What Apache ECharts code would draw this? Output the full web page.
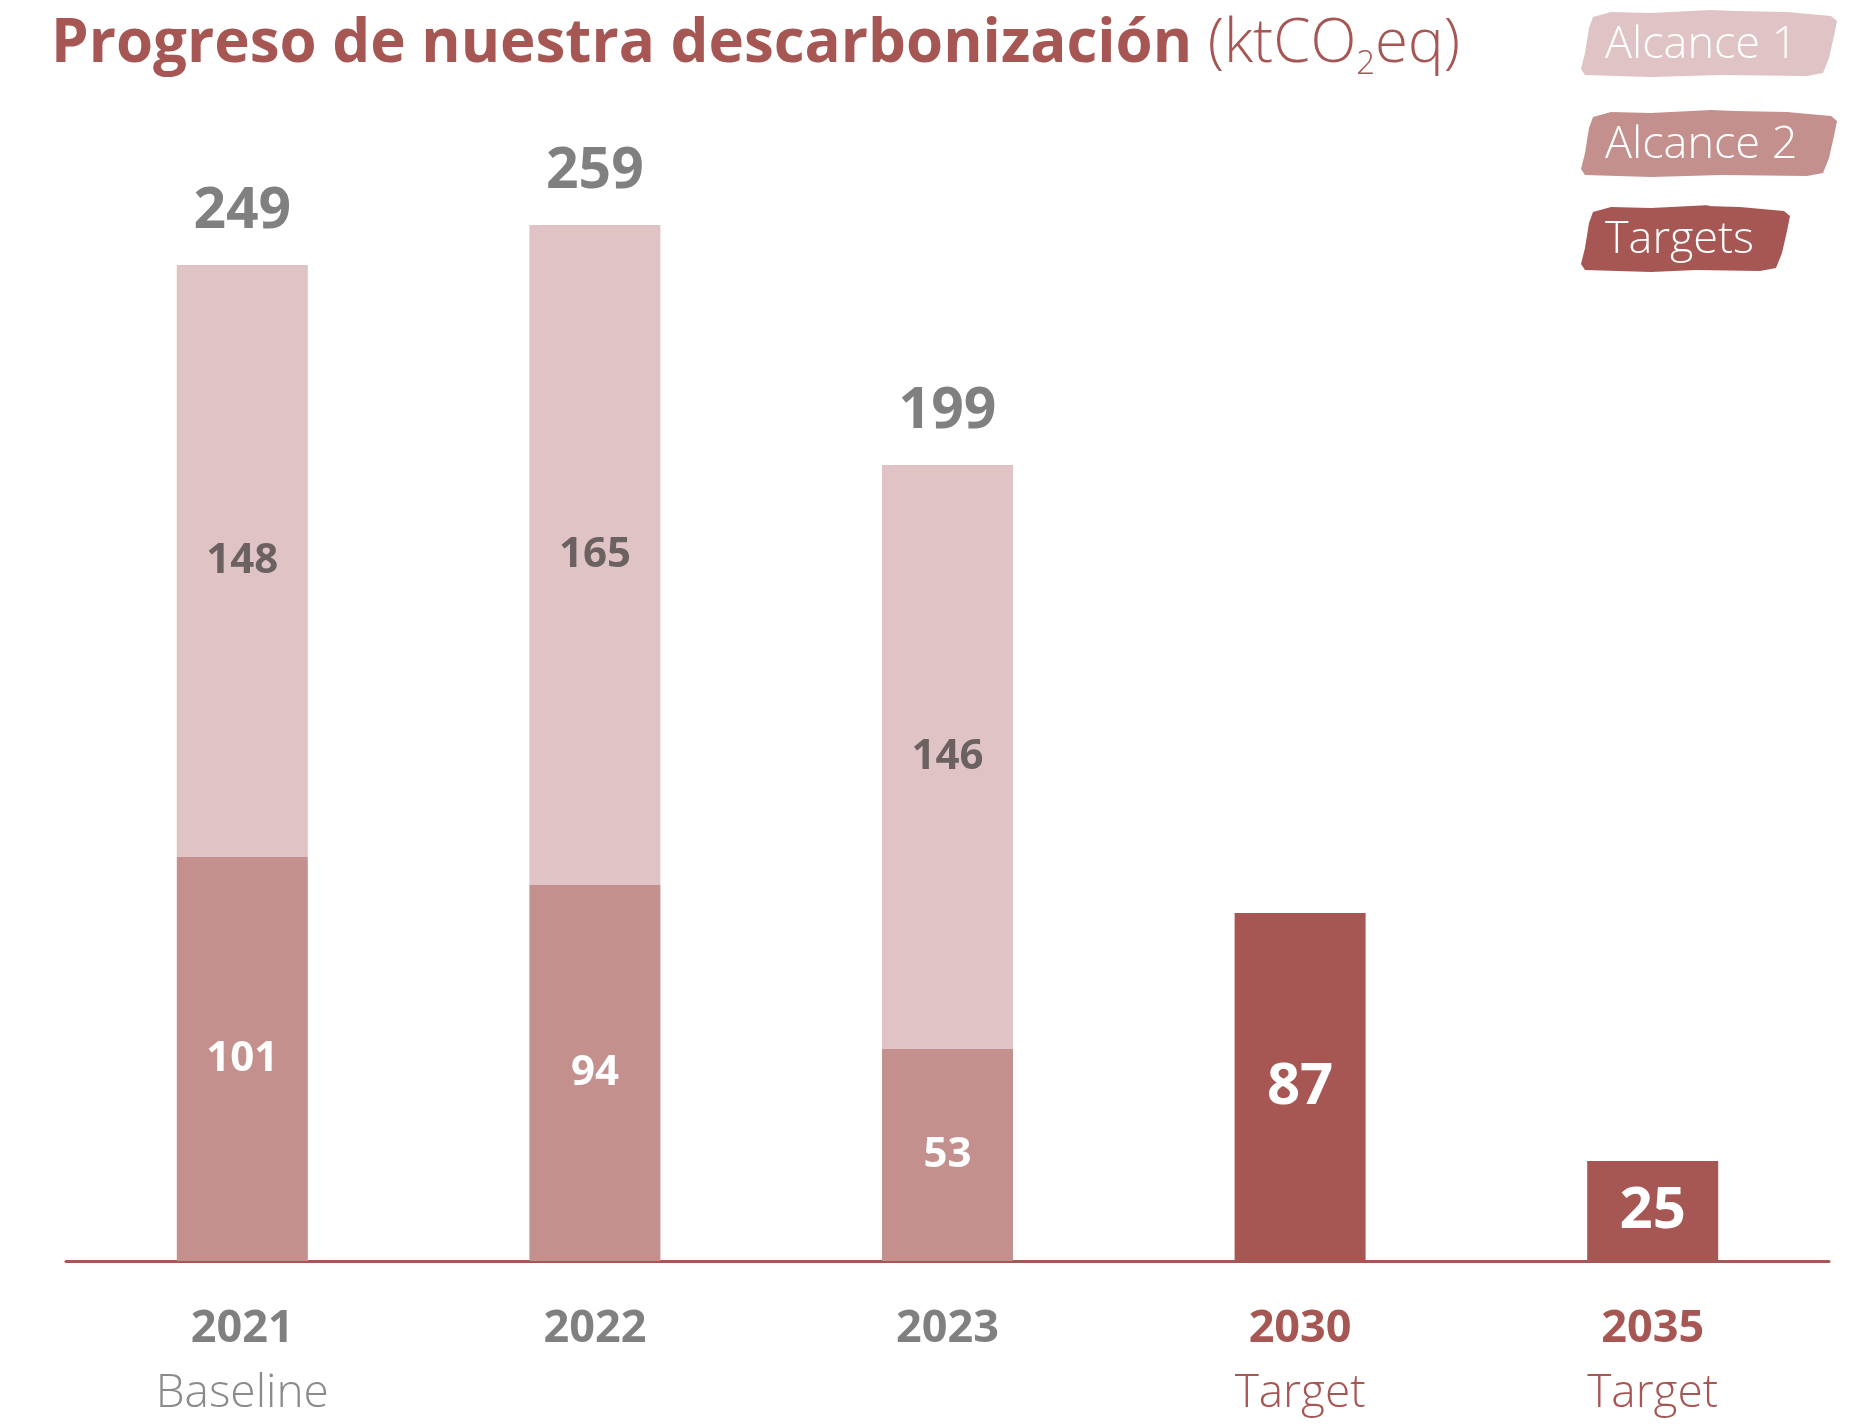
<!DOCTYPE html>
<html>
<head>
<meta charset="utf-8">
<title>Progreso de nuestra descarbonización</title>
<script src="https://cdn.jsdelivr.net/npm/echarts@6/dist/echarts.min.js"></script>
<style>
  html, body { margin: 0; padding: 0; background: #fff; }
  #main { width: 1871px; height: 1424px; }
</style>
</head>
<body>
<div id="main"></div>
<script>
// datos (ktCO2eq)
var years = ['2021', '2022', '2023', '2030', '2035'];
var notes = ['Baseline', '', '', 'Target', 'Target'];
var alcance2 = [101, 94, 53, '-', '-'];
var alcance1 = [148, 165, 146, '-', '-'];
var targets = ['-', '-', '-', 87, 25];
var totals = [249, 259, 199, '-', '-'];

var c1 = '#e0c3c4';
var c2 = '#c4908e';
var c3 = '#a65653';
var grey = '#808080';
var font = '"Open Sans", "Noto Sans", sans-serif';

// forma de pincel para la leyenda
function brush(x, y, w, h, color, label) {
  var pts = [[12, 9], [30, 4], [70, 5], [130, 2], [w * 0.6, 3], [w - 50, 4], [w - 6, 8], [w, 13],
    [w - 3, 28], [w - 8, 50], [w - 14, h - 4], [w - 30, h - 1], [w * 0.55, h - 2], [70, h], [4, h - 2],
    [0, h - 8], [4, 45], [8, 20]];
  return {
    type: 'group',
    x: x,
    y: y,
    children: [{
      type: 'polygon',
      shape: {points: pts},
      style: {fill: color}
    }, {
      type: 'text',
      x: 24,
      y: h / 2 + 3,
      style: {
        text: label,
        fill: '#fff',
        fontSize: 45,
        fontWeight: 300,
        fontFamily: font,
        verticalAlign: 'middle'
      }
    }]
  };
}

var chart = echarts.init(document.getElementById('main'));
var option = {
  animation: false,
  backgroundColor: '#fff',
  title: {
    left: 46,
    top: 4,
    text: '{b|Progreso de nuestra descarbonización}{l|\u00a0(ktCO}{s|2}{l|eq)}',
    textStyle: {
      rich: {
        b: {fontFamily: font, fontWeight: 'bold', fontSize: 60, color: c3, lineHeight: 72, verticalAlign: 'middle'},
        l: {fontFamily: font, fontWeight: 300, fontSize: 60, color: c3, lineHeight: 72, verticalAlign: 'middle'},
        s: {fontFamily: font, fontWeight: 300, fontSize: 33, color: c3, lineHeight: 4, verticalAlign: 'bottom'}
      }
    }
  },
  graphic: [
    brush(1581, 8, 256, 69, c1, 'Alcance 1'),
    brush(1581, 108, 256, 69, c2, 'Alcance 2'),
    brush(1581, 203, 209, 69, c3, 'Targets')
  ],
  grid: {
    left: 66,
    right: 42,
    top: 141,
    bottom: 163
  },
  xAxis: {
    type: 'category',
    data: years,
    axisLine: {lineStyle: {color: c3, width: 3}},
    axisTick: {show: false},
    axisLabel: {
      margin: 42,
      interval: 0,
      formatter: function (v, i) {
        var t = targets[i] !== '-';
        var s = t ? '{yt|' + v + '}' : '{y|' + v + '}';
        if (notes[i]) {
          s += '\n' + (t ? '{st|' + notes[i] + '}' : '{s|' + notes[i] + '}');
        }
        return s;
      },
      rich: {
        y: {fontFamily: font, fontWeight: 'bold', fontSize: 45, color: grey, lineHeight: 52},
        yt: {fontFamily: font, fontWeight: 'bold', fontSize: 45, color: c3, lineHeight: 52},
        s: {fontFamily: font, fontWeight: 300, fontSize: 46, color: '#8a8a8a', lineHeight: 78},
        st: {fontFamily: font, fontWeight: 300, fontSize: 46, color: c3, lineHeight: 78}
      }
    }
  },
  yAxis: {
    type: 'value',
    min: 0,
    max: 280,
    show: false,
    splitLine: {show: false}
  },
  series: [{
    name: 'Alcance 2',
    type: 'bar',
    stack: 'total',
    barWidth: 131,
    data: alcance2,
    itemStyle: {color: c2},
    label: {
      show: true,
      position: 'inside',
      color: '#fff',
      fontFamily: font,
      fontWeight: 'bold',
      fontSize: 42
    }
  }, {
    name: 'Alcance 1',
    type: 'bar',
    stack: 'total',
    barWidth: 131,
    data: alcance1,
    itemStyle: {color: c1},
    label: {
      show: true,
      position: 'inside',
      color: '#6b6161',
      fontFamily: font,
      fontWeight: 'bold',
      fontSize: 42
    }
  }, {
    name: 'Targets',
    type: 'bar',
    stack: 'total',
    barWidth: 131,
    data: targets,
    itemStyle: {color: c3},
    label: {
      show: true,
      position: 'inside',
      color: '#fff',
      fontFamily: font,
      fontWeight: 'bold',
      fontSize: 58
    }
  }, {
    // totales encima de las barras
    name: 'Total',
    type: 'line',
    data: totals,
    symbol: 'circle',
    symbolSize: 1,
    itemStyle: {color: 'rgba(0,0,0,0)'},
    lineStyle: {width: 0, color: 'rgba(0,0,0,0)'},
    silent: true,
    z: 5,
    label: {
      show: true,
      position: 'top',
      distance: 24,
      color: grey,
      fontFamily: font,
      fontWeight: 'bold',
      fontSize: 57
    }
  }]
};
chart.setOption(option);
</script>
</body>
</html>
